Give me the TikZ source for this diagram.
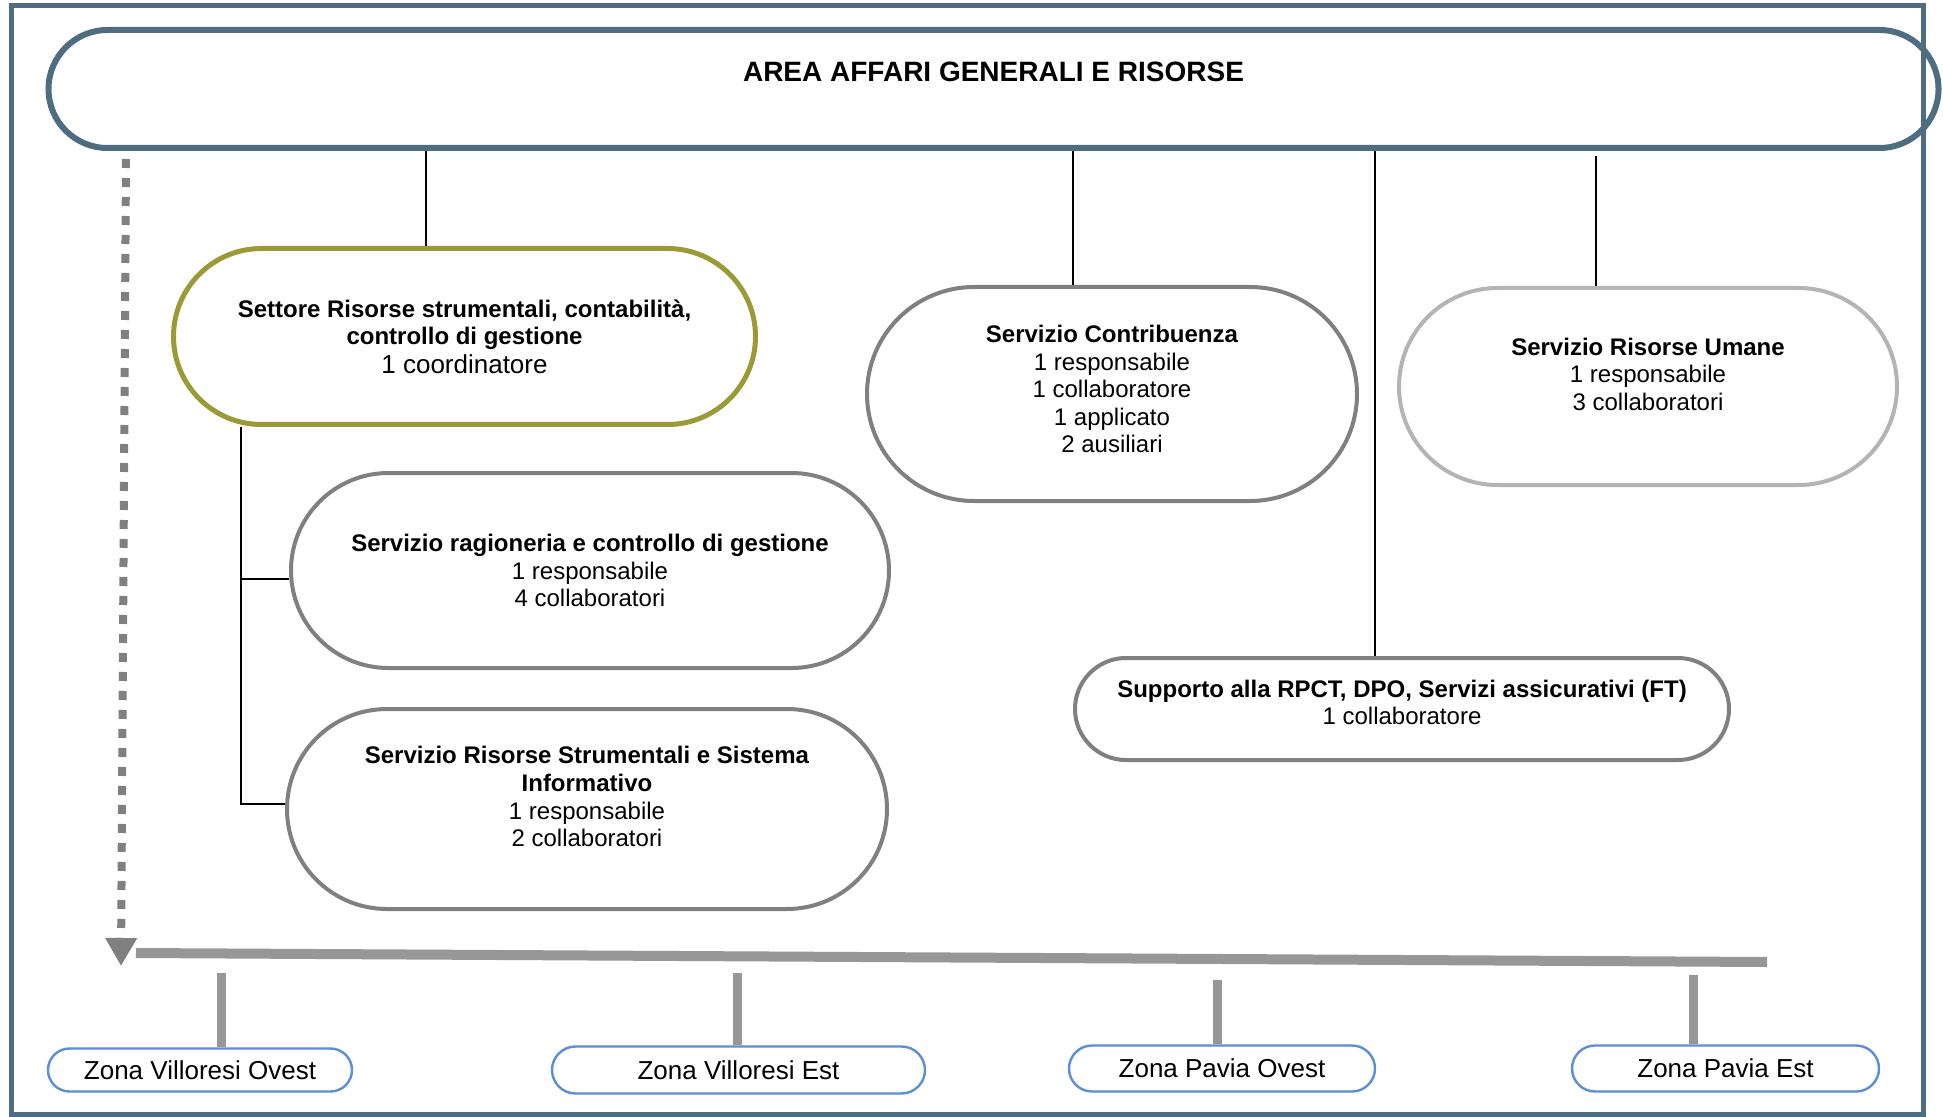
\documentclass[tikz,border=0pt]{standalone}
\usepackage{fontspec}
\setmainfont{Liberation Sans}
\usepackage{tikz}
\usetikzlibrary{shapes.misc,positioning,calc,arrows.meta}

\definecolor{frameblue}{HTML}{4E6D81}
\definecolor{olive}{HTML}{9B9A36}
\definecolor{boxgray}{HTML}{808080}
\definecolor{softgray}{HTML}{B4B4B4}
\definecolor{zoneblue}{HTML}{5B8ED6}
\definecolor{bargray}{HTML}{979797}

\tikzset{
  box/.style={rounded rectangle, draw=boxgray, line width=2pt, inner sep=0pt, fill=white,
    align=center, font=\fontsize{12}{13.8}\selectfont},
  zone/.style={rounded rectangle, draw=zoneblue, line width=1.2pt, inner sep=0pt, fill=white,
    font=\fontsize{13}{15}\selectfont},
  link/.style={draw=black, line width=0.7pt},
  tick/.style={draw=bargray, line width=4.5pt},
  bar/.style={draw=bargray, line width=5pt},
  dotarrow/.style={draw=boxgray, line width=4pt, dash pattern=on 4.5pt off 5pt,
    -{Triangle[width=15pt,length=14pt]}},
}

\begin{document}
\begin{tikzpicture}[x=0.5pt, y=-0.5pt]
    \useasboundingbox (0,0) rectangle (1943,1117);

    % outer frame
    \draw[frameblue, line width=2.5pt] (11,6) rectangle (1923,1114);

    % area
    \node[rounded rectangle, draw=frameblue, line width=3pt, inner sep=0pt,
          minimum width=945pt, minimum height=59pt] (area) at (993.5,89) {};
    \node[font=\bfseries\fontsize{14}{16}\selectfont] (areaTitle) at ([yshift=8.5pt]area.center)
        {AREA AFFARI GENERALI E RISORSE};

    % settore and its services
    \node[box, draw=olive, line width=2.5pt, minimum width=291pt, minimum height=88pt] (settore) at (464.5,336.5)
        {\textbf{Settore Risorse strumentali, contabilità,}\\[-0.3pt]
         \textbf{controllo di gestione}\\[0.6pt]
         {\fontsize{13}{15}\selectfont 1 coordinatore}};
    \node[box, minimum width=299pt, minimum height=97.5pt] (ragioneria) at (590,570.5)
        {\textbf{Servizio ragioneria e controllo di gestione}\\1 responsabile\\4 collaboratori};
    \node[box, minimum width=300pt, minimum height=100pt] (strumentali) at (587,809)
        {\textbf{Servizio Risorse Strumentali e Sistema}\\\textbf{Informativo}\\1 responsabile\\2 collaboratori\\[-1.4pt]};

    % other services
    \node[box, minimum width=245pt, minimum height=107pt] (contribuenza) at (1112,394)
        {\textbf{Servizio Contribuenza}\\1 responsabile\\1 collaboratore\\1 applicato\\2 ausiliari\\[-8.8pt]};
    \node[box, draw=softgray, minimum width=249pt, minimum height=98.5pt] (umane) at (1648,386.5)
        {\textbf{Servizio Risorse Umane}\\1 responsabile\\3 collaboratori\\[-1.4pt]};
    \node[box, minimum width=327pt, minimum height=51pt] (supporto) at (1402,709)
        {\textbf{Supporto alla RPCT, DPO, Servizi assicurativi (FT)}\\1 collaboratore\\[-7pt]};

    % zones
    \node[zone, minimum width=152pt, minimum height=21.5pt] (zVO) at (200,1070) {Zona Villoresi Ovest};
    \node[zone, minimum width=186.5pt, minimum height=23.5pt] (zVE) at (738.5,1070) {Zona Villoresi Est};
    \node[zone, minimum width=153pt, minimum height=23pt] (zPO) at (1222,1068.5) {Zona Pavia Ovest};
    \node[zone, minimum width=153.5pt, minimum height=23pt] (zPE) at (1725.5,1068.5) {Zona Pavia Est};

    % connectors
    \draw[link] (area.south -| 426,0) -- (settore.north -| 426,0);
    \draw[link] (area.south -| 1073,0) -- (contribuenza.north -| 1073,0);
    \draw[link] (area.south -| 1375,0) -- (supporto.north -| 1375,0);
    \draw[link] (1596,156) -- (umane.north -| 1596,0);
    \draw[link] (settore.south -| 241,0) |- ([yshift=-4.25pt]ragioneria.west);
    \draw[link] (settore.south -| 241,0) |- ([yshift=2.5pt]strumentali.west);

    % zones bar
    \coordinate (arrowTop) at (126,159);
    \coordinate (arrowEnd) at (121,966);
    \coordinate (barW) at (136,953);
    \coordinate (barE) at (1767,962);
    \draw[dotarrow] (arrowTop) -- (arrowEnd);
    \draw[bar] (barW) -- (barE);
    \foreach \z/\x/\y in {zVO/221/973, zVE/737/973, zPO/1217/980, zPE/1693/975} {
        \coordinate (\z top) at (\x,\y);
        \draw[tick] (\z top) -- (\z.north -| \z top);
    }
\end{tikzpicture}
\end{document}
